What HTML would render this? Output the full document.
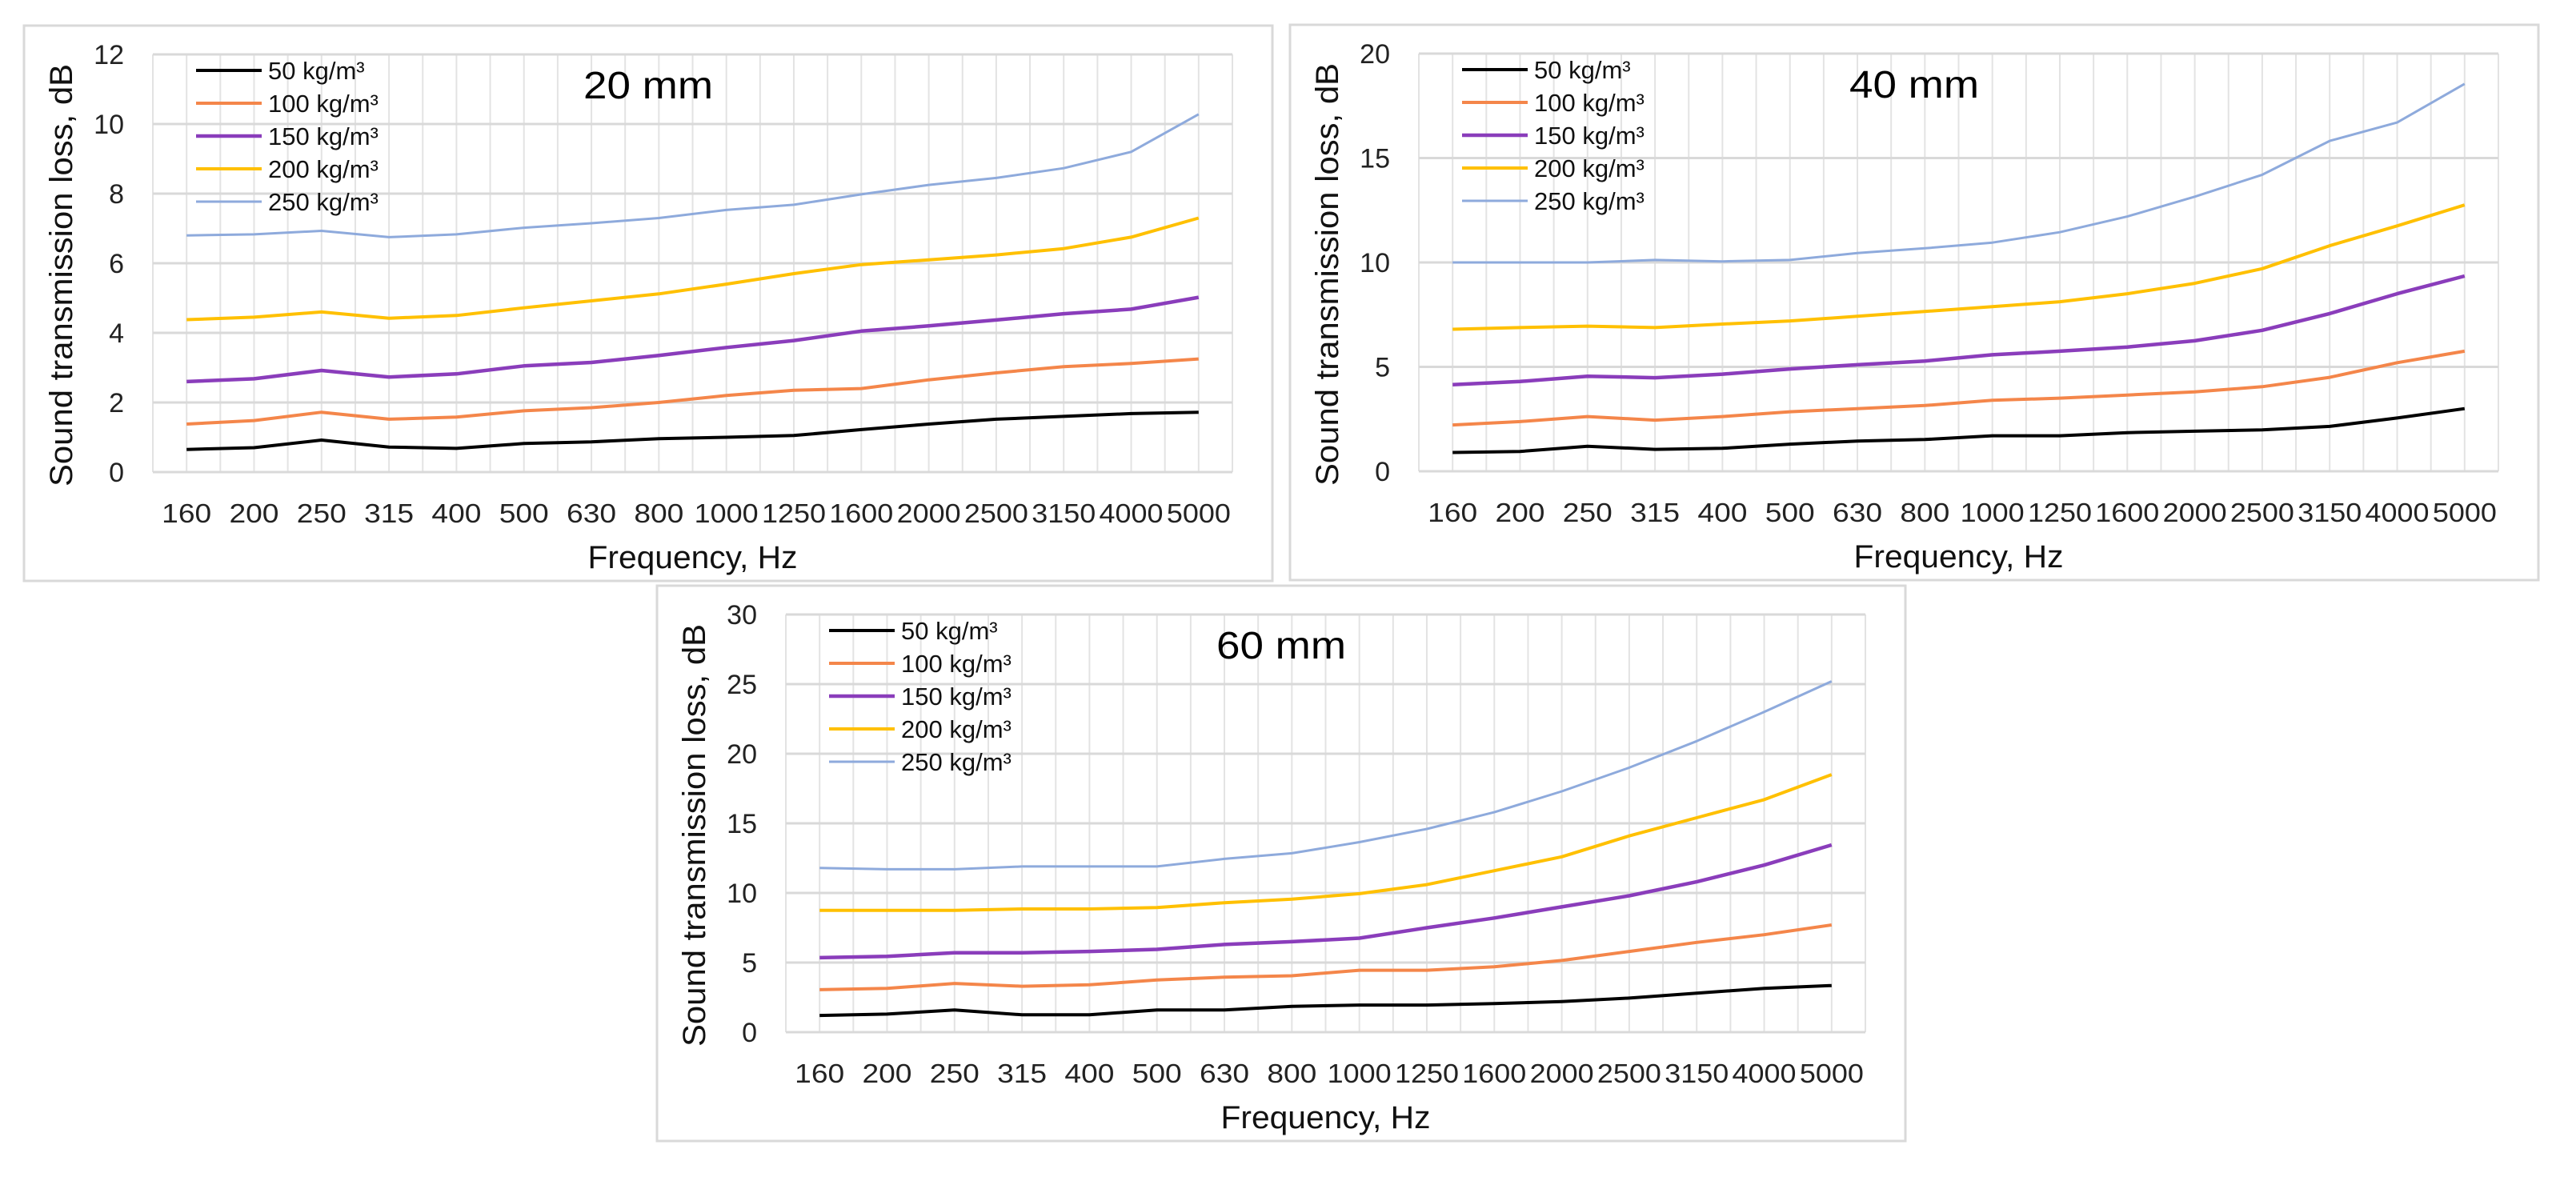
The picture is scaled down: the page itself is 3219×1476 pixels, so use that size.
<!DOCTYPE html>
<html><head><meta charset="utf-8"><style>
html,body{margin:0;padding:0;background:#fff;}
svg{display:block;font-family:"Liberation Sans",sans-serif;}
</style></head><body>
<svg id="fig" width="3219" height="1476" viewBox="0 0 3219 1476"></svg>
<script>
const categories=["160","200","250","315","400","500","630","800","1000","1250","1600","2000","2500","3150","4000","5000"];
const seriesNames=["50 kg/m³","100 kg/m³","150 kg/m³","200 kg/m³","250 kg/m³"];
const seriesColors=["#000000","#f4864a","#8a3dbb","#ffc000","#8eaadc"];
const seriesWidths=[4,4,4.5,4,3];
// 20 mm
const d20_50=[0.65,0.7,0.92,0.72,0.68,0.82,0.87,0.96,1.0,1.05,1.22,1.38,1.52,1.6,1.68,1.72];
const d20_100=[1.38,1.48,1.72,1.52,1.58,1.76,1.85,2.0,2.2,2.35,2.4,2.65,2.85,3.03,3.12,3.25];
const d20_150=[2.6,2.68,2.92,2.73,2.82,3.05,3.15,3.35,3.58,3.78,4.05,4.2,4.37,4.55,4.68,5.02];
const d20_200=[4.38,4.45,4.6,4.42,4.5,4.72,4.92,5.12,5.4,5.7,5.96,6.1,6.24,6.42,6.75,7.3];
const d20_250=[6.8,6.83,6.93,6.75,6.83,7.02,7.15,7.3,7.53,7.68,7.98,8.25,8.45,8.73,9.2,10.28];
const ticks20=[0,2,4,6,8,10,12];
// 40 mm
const d40_50=[0.9,0.95,1.2,1.05,1.1,1.3,1.45,1.52,1.7,1.7,1.85,1.92,1.98,2.15,2.55,3.0];
const d40_100=[2.22,2.38,2.62,2.45,2.62,2.85,3.0,3.15,3.4,3.5,3.65,3.8,4.05,4.5,5.2,5.75];
const d40_150=[4.15,4.3,4.55,4.48,4.65,4.9,5.1,5.28,5.58,5.75,5.95,6.25,6.75,7.55,8.5,9.35];
const d40_200=[6.8,6.88,6.95,6.88,7.05,7.2,7.42,7.65,7.88,8.12,8.5,9.0,9.7,10.8,11.75,12.75];
const d40_250=[10.0,10.0,10.0,10.12,10.05,10.12,10.45,10.68,10.95,11.45,12.2,13.15,14.2,15.82,16.7,18.55];
const ticks40=[0,5,10,15,20];
// 60 mm
const d60_50=[1.2,1.3,1.6,1.25,1.25,1.6,1.6,1.85,1.95,1.95,2.05,2.2,2.45,2.8,3.15,3.35];
const d60_100=[3.05,3.15,3.5,3.3,3.4,3.75,3.95,4.05,4.45,4.45,4.7,5.15,5.8,6.45,7.0,7.7];
const d60_150=[5.35,5.45,5.7,5.7,5.8,5.95,6.3,6.5,6.75,7.5,8.2,9.0,9.8,10.8,12.0,13.45];
const d60_200=[8.75,8.75,8.75,8.85,8.85,8.95,9.3,9.55,9.95,10.6,11.6,12.6,14.1,15.4,16.7,18.5];
const d60_250=[11.8,11.7,11.7,11.9,11.9,11.9,12.45,12.85,13.65,14.6,15.8,17.3,19.0,20.9,23.0,25.2];
const ticks60=[0,5,10,15,20,25,30];

const NS="http://www.w3.org/2000/svg";
const svg=document.getElementById('fig');
function mk(tag,attrs,parent,text){const e=document.createElementNS(NS,tag);for(const k in attrs)e.setAttribute(k,attrs[k]);if(text!==undefined)e.textContent=text;parent.appendChild(e);return e;}

function chart(cfg){
  const g=mk('g',{},svg);
  
  
  const ox=cfg.ox, oy=cfg.oy;
  const panel=mk('rect',{x:ox+30,y:oy+32,width:1560,height:694,fill:'#fff',stroke:'#d9d9d9','stroke-width':3},g);
  
  
  const L=ox+191,R=ox+1540,T=oy+68,B=oy+590;
  const n=categories.length,cw=(R-L)/n;
  const ymax=cfg.ticks[cfg.ticks.length-1];
  const xs=i=>L+cw*(i+0.5);
  const ys=v=>B-(v/ymax)*(B-T);
  // vertical gridlines
  for(let k=0;k<=2*n;k++){
    const x=L+cw*k/2;
    const vl=mk('line',{x1:x,x2:x,y1:T,y2:B,stroke:'#e3e3e3','stroke-width':2},g);
    
    
  }
  cfg.ticks.forEach(t=>{
    const y=ys(t);
    const hl=mk('line',{x1:L,x2:R,y1:y,y2:y,stroke:'#d9d9d9','stroke-width':3},g);
    
    
    const tl=mk('text',{x:L-36,y:y+12,'text-anchor':'end','font-size':34,fill:'#222'},g,String(t));
    
    
  });
  categories.forEach((c,i)=>{
    const tl=mk('text',{x:xs(i),y:oy+653,'text-anchor':'middle','font-size':33,fill:'#222',textLength:c.length>3?80:62,lengthAdjust:'spacingAndGlyphs'},g,c);
    
    
  });
  const yt=mk('text',{x:0,y:0,'text-anchor':'middle','font-size':40,fill:'#111',textLength:528,lengthAdjust:'spacingAndGlyphs',transform:`translate(${ox+90},${oy+344}) rotate(-90)`},g,'Sound transmission loss, dB');
  
  
  const xt=mk('text',{x:(L+R)/2,y:oy+710,'text-anchor':'middle','font-size':40,fill:'#111',textLength:262,lengthAdjust:'spacingAndGlyphs'},g,'Frequency, Hz');
  
  
  const tt=mk('text',{x:ox+810,y:oy+123,'text-anchor':'middle','font-size':48,fill:'#000',textLength:162,lengthAdjust:'spacingAndGlyphs'},g,cfg.title);
  
  
  cfg.series.forEach((s,j)=>{
    const pts=s.map((v,i)=>xs(i).toFixed(1)+','+ys(v).toFixed(1)).join(' ');
    const pl=mk('polyline',{points:pts,fill:'none',stroke:seriesColors[j],'stroke-width':seriesWidths[j],'stroke-linejoin':'round'},g);
    
    
    const ly=oy+88+j*41;
    const ll=mk('line',{x1:ox+245,x2:ox+327,y1:ly,y2:ly,stroke:seriesColors[j],'stroke-width':seriesWidths[j]},g);
    
    
    const lt=mk('text',{x:ox+335,y:ly+11,'font-size':31,fill:'#111'},g,seriesNames[j]);
    
    
  });
}
chart({name:'chart-20mm',ox:0,oy:0,title:'20 mm',ticks:ticks20,series:[d20_50,d20_100,d20_150,d20_200,d20_250]});
chart({name:'chart-40mm',ox:1582,oy:-1,title:'40 mm',ticks:ticks40,series:[d40_50,d40_100,d40_150,d40_200,d40_250]});
chart({name:'chart-60mm',ox:791,oy:700,title:'60 mm',ticks:ticks60,series:[d60_50,d60_100,d60_150,d60_200,d60_250]});
</script>
</body></html>
